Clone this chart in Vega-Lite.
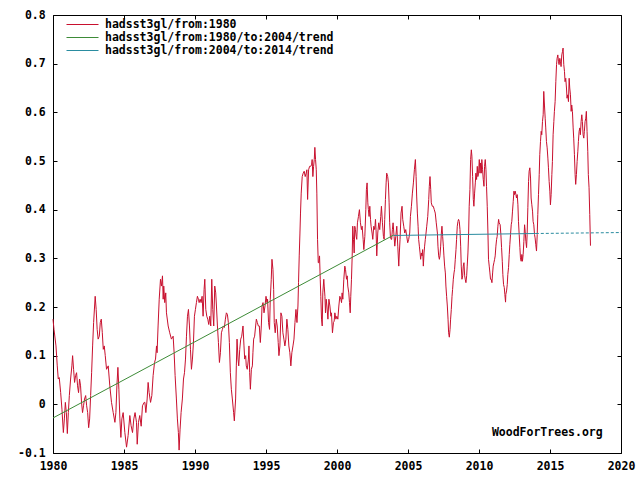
{
  "$schema": "https://vega.github.io/schema/vega-lite/v6.json",
  "width": 568,
  "height": 438,
  "autosize": {"type": "none"},
  "padding": {"left": 53, "top": 15, "right": 19, "bottom": 27},
  "background": "white",
  "config": {
    "view": {"stroke": "#000000", "strokeWidth": 1},
    "axis": {"grid": false, "domain": false, "tickColor": "#000000", "tickSize": -4, "tickWidth": 1, "labelFont": "DejaVu Sans Mono", "labelFontSize": 11.5, "labelFontWeight": "bold", "labelColor": "#000000", "title": null},
    "legend": {"orient": "none", "legendX": 13, "legendY": 3, "padding": 0, "symbolType": "stroke", "symbolSize": 1024, "symbolStrokeWidth": 1, "clipHeight": 13, "rowPadding": 0, "labelOffset": 6, "labelFont": "DejaVu Sans Mono", "labelFontSize": 11.5, "labelFontWeight": "bold", "labelColor": "#000000", "labelLimit": 400, "title": null}
  },
  "datasets": {
    "sst": [
      {"t":1980.00,"v":0.175},{"t":1980.07,"v":0.154},{"t":1980.21,"v":0.120},{"t":1980.30,"v":0.079},{"t":1980.37,"v":0.052},{"t":1980.44,"v":0.055},{"t":1980.54,"v":0.024},{"t":1980.63,"v":-0.010},{"t":1980.73,"v":-0.058},{"t":1980.80,"v":-0.030},{"t":1980.87,"v":0.004},{"t":1980.94,"v":-0.017},{"t":1981.01,"v":-0.060},{"t":1981.08,"v":-0.017},{"t":1981.15,"v":0.018},{"t":1981.24,"v":0.052},{"t":1981.33,"v":0.079},{"t":1981.38,"v":0.100},{"t":1981.45,"v":0.072},{"t":1981.52,"v":0.045},{"t":1981.59,"v":0.059},{"t":1981.66,"v":0.065},{"t":1981.73,"v":0.038},{"t":1981.80,"v":0.024},{"t":1981.87,"v":0.052},{"t":1981.94,"v":0.038},{"t":1982.01,"v":0.004},{"t":1982.08,"v":-0.017},{"t":1982.15,"v":-0.003},{"t":1982.22,"v":0.011},{"t":1982.30,"v":0.018},{"t":1982.37,"v":-0.003},{"t":1982.44,"v":-0.017},{"t":1982.51,"v":-0.048},{"t":1982.58,"v":-0.030},{"t":1982.65,"v":0.018},{"t":1982.72,"v":0.065},{"t":1982.79,"v":0.120},{"t":1982.86,"v":0.168},{"t":1982.93,"v":0.202},{"t":1982.97,"v":0.222},{"t":1983.04,"v":0.195},{"t":1983.11,"v":0.154},{"t":1983.18,"v":0.134},{"t":1983.26,"v":0.140},{"t":1983.33,"v":0.168},{"t":1983.40,"v":0.175},{"t":1983.47,"v":0.148},{"t":1983.54,"v":0.113},{"t":1983.61,"v":0.120},{"t":1983.68,"v":0.100},{"t":1983.77,"v":0.072},{"t":1983.89,"v":0.079},{"t":1984.00,"v":0.038},{"t":1984.12,"v":0.004},{"t":1984.24,"v":-0.017},{"t":1984.36,"v":-0.037},{"t":1984.43,"v":-0.017},{"t":1984.50,"v":0.038},{"t":1984.57,"v":0.076},{"t":1984.64,"v":0.031},{"t":1984.71,"v":-0.030},{"t":1984.78,"v":-0.068},{"t":1984.85,"v":-0.030},{"t":1984.94,"v":-0.017},{"t":1985.06,"v":-0.058},{"t":1985.18,"v":-0.088},{"t":1985.29,"v":-0.064},{"t":1985.41,"v":-0.023},{"t":1985.50,"v":-0.044},{"t":1985.60,"v":-0.058},{"t":1985.69,"v":-0.030},{"t":1985.78,"v":-0.017},{"t":1985.88,"v":-0.037},{"t":1985.93,"v":-0.082},{"t":1986.02,"v":-0.037},{"t":1986.11,"v":-0.023},{"t":1986.21,"v":-0.045},{"t":1986.30,"v":-0.003},{"t":1986.42,"v":0.004},
      {"t":1986.47,"v":0.004},{"t":1986.54,"v":-0.017},{"t":1986.63,"v":0.011},{"t":1986.70,"v":0.045},{"t":1986.77,"v":0.024},{"t":1986.87,"v":0.004},{"t":1986.96,"v":0.018},{"t":1987.05,"v":0.059},{"t":1987.15,"v":0.086},{"t":1987.22,"v":0.093},{"t":1987.29,"v":0.120},{"t":1987.33,"v":0.106},{"t":1987.40,"v":0.161},{"t":1987.48,"v":0.216},{"t":1987.57,"v":0.257},{"t":1987.64,"v":0.243},{"t":1987.71,"v":0.264},{"t":1987.76,"v":0.216},{"t":1987.80,"v":0.243},{"t":1987.87,"v":0.209},{"t":1987.94,"v":0.229},{"t":1987.99,"v":0.188},{"t":1988.11,"v":0.161},{"t":1988.22,"v":0.147},{"t":1988.34,"v":0.134},{"t":1988.46,"v":0.140},{"t":1988.53,"v":0.106},{"t":1988.60,"v":0.059},{"t":1988.69,"v":0.011},{"t":1988.76,"v":-0.030},{"t":1988.83,"v":-0.058},{"t":1988.88,"v":-0.094},{"t":1988.95,"v":-0.051},{"t":1989.02,"v":-0.017},{"t":1989.11,"v":0.011},{"t":1989.19,"v":0.052},{"t":1989.26,"v":0.065},{"t":1989.33,"v":0.093},{"t":1989.40,"v":0.140},{"t":1989.47,"v":0.181},{"t":1989.54,"v":0.195},{"t":1989.61,"v":0.161},{"t":1989.68,"v":0.113},{"t":1989.75,"v":0.072},{"t":1989.82,"v":0.093},{"t":1989.89,"v":0.127},{"t":1989.96,"v":0.181},{"t":1990.03,"v":0.195},{"t":1990.10,"v":0.209},{"t":1990.17,"v":0.222},{"t":1990.24,"v":0.216},{"t":1990.29,"v":0.209},{"t":1990.36,"v":0.216},{"t":1990.43,"v":0.209},{"t":1990.50,"v":0.222},{"t":1990.57,"v":0.181},{"t":1990.64,"v":0.236},{"t":1990.69,"v":0.257},{"t":1990.76,"v":0.195},{"t":1990.83,"v":0.181},{"t":1990.90,"v":0.175},{"t":1990.97,"v":0.164},{"t":1991.04,"v":0.181},{"t":1991.11,"v":0.161},{"t":1991.18,"v":0.257},{"t":1991.25,"v":0.195},{"t":1991.32,"v":0.161},{"t":1991.39,"v":0.243},{"t":1991.46,"v":0.229},{"t":1991.51,"v":0.202},{"t":1991.58,"v":0.161},{"t":1991.65,"v":0.127},{"t":1991.72,"v":0.086},{"t":1991.79,"v":0.106},{"t":1991.86,"v":0.147},{"t":1991.93,"v":0.154},{"t":1992.00,"v":0.161},{"t":1992.07,"v":0.158},{"t":1992.14,"v":0.175},{"t":1992.21,"v":0.188},{"t":1992.28,"v":0.185},{"t":1992.35,"v":0.168},{"t":1992.42,"v":0.127},{"t":1992.49,"v":0.065},{"t":1992.56,"v":0.031},{"t":1992.63,"v":0.011},{"t":1992.72,"v":-0.017},
      {"t":1992.77,"v":-0.034},{"t":1992.86,"v":0.011},{"t":1992.91,"v":0.079},{"t":1992.96,"v":0.134},{"t":1993.03,"v":0.093},{"t":1993.08,"v":0.079},{"t":1993.15,"v":0.113},{"t":1993.22,"v":0.134},{"t":1993.29,"v":0.140},{"t":1993.38,"v":0.161},{"t":1993.45,"v":0.120},{"t":1993.50,"v":0.093},{"t":1993.57,"v":0.100},{"t":1993.61,"v":0.079},{"t":1993.68,"v":0.072},{"t":1993.76,"v":0.093},{"t":1993.80,"v":0.120},{"t":1993.85,"v":0.065},{"t":1993.90,"v":0.031},{"t":1993.97,"v":0.072},{"t":1994.04,"v":0.079},{"t":1994.08,"v":0.106},{"t":1994.13,"v":0.134},{"t":1994.20,"v":0.140},{"t":1994.27,"v":0.161},{"t":1994.32,"v":0.175},{"t":1994.39,"v":0.168},{"t":1994.46,"v":0.161},{"t":1994.53,"v":0.161},{"t":1994.60,"v":0.127},{"t":1994.67,"v":0.161},{"t":1994.72,"v":0.202},{"t":1994.79,"v":0.209},{"t":1994.86,"v":0.188},{"t":1994.93,"v":0.202},{"t":1995.00,"v":0.222},{"t":1995.07,"v":0.209},{"t":1995.11,"v":0.216},{"t":1995.18,"v":0.168},{"t":1995.25,"v":0.154},{"t":1995.30,"v":0.216},{"t":1995.37,"v":0.257},{"t":1995.42,"v":0.298},{"t":1995.49,"v":0.277},{"t":1995.54,"v":0.236},{"t":1995.58,"v":0.168},{"t":1995.65,"v":0.147},{"t":1995.72,"v":0.175},{"t":1995.79,"v":0.161},{"t":1995.86,"v":0.127},{"t":1995.91,"v":0.100},{"t":1995.98,"v":0.120},{"t":1996.05,"v":0.188},{"t":1996.12,"v":0.181},{"t":1996.19,"v":0.147},{"t":1996.26,"v":0.134},{"t":1996.33,"v":0.120},{"t":1996.40,"v":0.134},{"t":1996.47,"v":0.175},{"t":1996.54,"v":0.154},{"t":1996.61,"v":0.120},{"t":1996.68,"v":0.106},{"t":1996.75,"v":0.079},{"t":1996.82,"v":0.106},{"t":1996.90,"v":0.120},{"t":1996.97,"v":0.134},{"t":1997.04,"v":0.168},{"t":1997.11,"v":0.195},{"t":1997.18,"v":0.168},{"t":1997.25,"v":0.202},{"t":1997.29,"v":0.250},{"t":1997.34,"v":0.305},{"t":1997.39,"v":0.352},{"t":1997.43,"v":0.393},{"t":1997.48,"v":0.434},{"t":1997.55,"v":0.468},{"t":1997.62,"v":0.475},{"t":1997.69,"v":0.479},{"t":1997.76,"v":0.468},{"t":1997.83,"v":0.475},{"t":1997.88,"v":0.482},{"t":1997.93,"v":0.421},{"t":1998.00,"v":0.482},{"t":1998.07,"v":0.489},{"t":1998.14,"v":0.489},{"t":1998.21,"v":0.492},{"t":1998.25,"v":0.503},{"t":1998.30,"v":0.468},{"t":1998.35,"v":0.489},{"t":1998.40,"v":0.503},{"t":1998.44,"v":0.528},{"t":1998.49,"v":0.503},{"t":1998.54,"v":0.482},{"t":1998.58,"v":0.434},{"t":1998.63,"v":0.339},{"t":1998.68,"v":0.291},{"t":1998.72,"v":0.291},{"t":1998.77,"v":0.305},{"t":1998.82,"v":0.257},{"t":1998.86,"v":0.222},{"t":1998.91,"v":0.175},{"t":1998.96,"v":0.161},{"t":1999.00,"v":0.229},{"t":1999.07,"v":0.257},
      {"t":1999.10,"v":0.243},{"t":1999.15,"v":0.222},{"t":1999.19,"v":0.188},{"t":1999.24,"v":0.216},{"t":1999.29,"v":0.202},{"t":1999.36,"v":0.175},{"t":1999.43,"v":0.216},{"t":1999.50,"v":0.202},{"t":1999.57,"v":0.181},{"t":1999.61,"v":0.188},{"t":1999.68,"v":0.147},{"t":1999.75,"v":0.168},{"t":1999.80,"v":0.171},{"t":1999.85,"v":0.188},{"t":1999.92,"v":0.175},{"t":1999.99,"v":0.181},{"t":2000.06,"v":0.175},{"t":2000.13,"v":0.202},{"t":2000.20,"v":0.222},{"t":2000.27,"v":0.216},{"t":2000.32,"v":0.209},{"t":2000.36,"v":0.229},{"t":2000.41,"v":0.216},{"t":2000.48,"v":0.257},{"t":2000.55,"v":0.284},{"t":2000.60,"v":0.277},{"t":2000.67,"v":0.257},{"t":2000.72,"v":0.264},{"t":2000.76,"v":0.243},{"t":2000.83,"v":0.229},{"t":2000.88,"v":0.209},{"t":2000.93,"v":0.188},{"t":2000.97,"v":0.222},{"t":2001.02,"v":0.257},{"t":2001.07,"v":0.305},{"t":2001.11,"v":0.366},{"t":2001.16,"v":0.339},{"t":2001.21,"v":0.311},{"t":2001.25,"v":0.366},{"t":2001.30,"v":0.359},{"t":2001.35,"v":0.345},{"t":2001.39,"v":0.339},{"t":2001.44,"v":0.373},{"t":2001.51,"v":0.386},{"t":2001.58,"v":0.400},{"t":2001.65,"v":0.373},{"t":2001.72,"v":0.359},{"t":2001.77,"v":0.366},{"t":2001.84,"v":0.339},{"t":2001.89,"v":0.318},{"t":2001.96,"v":0.345},{"t":2002.03,"v":0.400},{"t":2002.07,"v":0.441},{"t":2002.12,"v":0.455},{"t":2002.17,"v":0.414},{"t":2002.21,"v":0.400},{"t":2002.26,"v":0.386},{"t":2002.31,"v":0.407},{"t":2002.36,"v":0.380},{"t":2002.40,"v":0.366},{"t":2002.47,"v":0.352},{"t":2002.52,"v":0.339},{"t":2002.59,"v":0.366},{"t":2002.66,"v":0.359},{"t":2002.71,"v":0.380},{"t":2002.75,"v":0.359},{"t":2002.80,"v":0.305},{"t":2002.87,"v":0.352},{"t":2002.94,"v":0.373},{"t":2003.01,"v":0.359},{"t":2003.08,"v":0.386},{"t":2003.13,"v":0.407},{"t":2003.20,"v":0.373},{"t":2003.27,"v":0.345},{"t":2003.32,"v":0.339},{"t":2003.36,"v":0.380},{"t":2003.41,"v":0.421},{"t":2003.46,"v":0.455},{"t":2003.50,"v":0.475},{"t":2003.57,"v":0.468},{"t":2003.62,"v":0.455},{"t":2003.67,"v":0.414},{"t":2003.71,"v":0.373},{"t":2003.76,"v":0.345},{"t":2003.81,"v":0.339},{"t":2003.85,"v":0.339},{"t":2003.90,"v":0.359},{"t":2003.95,"v":0.373},{"t":2004.02,"v":0.345},{"t":2004.07,"v":0.325},{"t":2004.14,"v":0.345},{"t":2004.21,"v":0.366},{"t":2004.28,"v":0.325},{"t":2004.35,"v":0.284},{"t":2004.39,"v":0.311},{"t":2004.44,"v":0.339},{"t":2004.51,"v":0.393},{"t":2004.58,"v":0.407},{"t":2004.63,"v":0.380},{"t":2004.70,"v":0.366},{"t":2004.77,"v":0.352},{"t":2004.84,"v":0.359},{"t":2004.91,"v":0.345},{"t":2004.98,"v":0.332},{"t":2005.05,"v":0.339},{"t":2005.12,"v":0.352},
      {"t":2005.17,"v":0.386},{"t":2005.24,"v":0.407},{"t":2005.31,"v":0.434},{"t":2005.38,"v":0.455},{"t":2005.45,"v":0.482},{"t":2005.52,"v":0.503},{"t":2005.57,"v":0.468},{"t":2005.61,"v":0.428},{"t":2005.66,"v":0.393},{"t":2005.71,"v":0.366},{"t":2005.75,"v":0.339},{"t":2005.80,"v":0.325},{"t":2005.85,"v":0.311},{"t":2005.89,"v":0.298},{"t":2005.94,"v":0.311},{"t":2005.99,"v":0.305},{"t":2006.03,"v":0.318},{"t":2006.08,"v":0.284},{"t":2006.13,"v":0.311},{"t":2006.17,"v":0.325},{"t":2006.22,"v":0.339},{"t":2006.27,"v":0.352},{"t":2006.32,"v":0.366},{"t":2006.39,"v":0.386},{"t":2006.46,"v":0.421},{"t":2006.50,"v":0.448},{"t":2006.55,"v":0.468},{"t":2006.60,"v":0.441},{"t":2006.64,"v":0.414},{"t":2006.71,"v":0.407},{"t":2006.78,"v":0.407},{"t":2006.85,"v":0.400},{"t":2006.92,"v":0.393},{"t":2006.99,"v":0.373},{"t":2007.07,"v":0.352},{"t":2007.11,"v":0.325},{"t":2007.16,"v":0.305},{"t":2007.21,"v":0.298},{"t":2007.25,"v":0.305},{"t":2007.30,"v":0.325},{"t":2007.35,"v":0.352},{"t":2007.39,"v":0.366},{"t":2007.44,"v":0.345},{"t":2007.49,"v":0.325},{"t":2007.53,"v":0.305},{"t":2007.58,"v":0.284},{"t":2007.63,"v":0.270},{"t":2007.67,"v":0.243},{"t":2007.72,"v":0.222},{"t":2007.77,"v":0.202},{"t":2007.82,"v":0.175},{"t":2007.86,"v":0.147},{"t":2007.91,"v":0.138},{"t":2007.96,"v":0.154},{"t":2008.00,"v":0.175},{"t":2008.05,"v":0.195},{"t":2008.10,"v":0.222},{"t":2008.14,"v":0.236},{"t":2008.19,"v":0.257},{"t":2008.24,"v":0.270},{"t":2008.28,"v":0.277},{"t":2008.33,"v":0.298},{"t":2008.38,"v":0.318},{"t":2008.42,"v":0.339},{"t":2008.47,"v":0.366},{"t":2008.52,"v":0.376},{"t":2008.56,"v":0.380},{"t":2008.61,"v":0.376},{"t":2008.66,"v":0.359},{"t":2008.71,"v":0.325},{"t":2008.75,"v":0.284},{"t":2008.80,"v":0.257},{"t":2008.85,"v":0.264},{"t":2008.89,"v":0.284},{"t":2008.94,"v":0.291},{"t":2008.99,"v":0.264},{"t":2009.03,"v":0.257},{"t":2009.08,"v":0.250},{"t":2009.13,"v":0.264},{"t":2009.17,"v":0.284},{"t":2009.22,"v":0.311},{"t":2009.27,"v":0.352},{"t":2009.31,"v":0.407},{"t":2009.36,"v":0.441},{"t":2009.41,"v":0.503},{"t":2009.46,"v":0.523},{"t":2009.50,"v":0.510},{"t":2009.55,"v":0.468},{"t":2009.60,"v":0.421},{"t":2009.64,"v":0.407},{"t":2009.69,"v":0.434},{"t":2009.74,"v":0.455},{"t":2009.78,"v":0.475},{"t":2009.83,"v":0.462},{"t":2009.88,"v":0.489},{"t":2009.92,"v":0.468},{"t":2009.97,"v":0.475},{"t":2010.02,"v":0.503},{"t":2010.07,"v":0.475},{"t":2010.11,"v":0.496},{"t":2010.16,"v":0.475},{"t":2010.20,"v":0.503},{"t":2010.25,"v":0.482},{"t":2010.30,"v":0.462},{"t":2010.35,"v":0.448},{"t":2010.39,"v":0.489},{"t":2010.44,"v":0.503},{"t":2010.49,"v":0.482},{"t":2010.53,"v":0.448},{"t":2010.58,"v":0.407},{"t":2010.63,"v":0.352},{"t":2010.67,"v":0.298},{"t":2010.72,"v":0.284},{"t":2010.77,"v":0.270},{"t":2010.81,"v":0.257},{"t":2010.86,"v":0.257},{"t":2010.91,"v":0.250},{"t":2010.96,"v":0.270},{"t":2011.00,"v":0.284},{"t":2011.05,"v":0.291},{"t":2011.10,"v":0.298},{"t":2011.14,"v":0.305},{"t":2011.19,"v":0.325},{"t":2011.24,"v":0.339},{"t":2011.28,"v":0.345},{"t":2011.33,"v":0.366},{"t":2011.38,"v":0.380},{"t":2011.42,"v":0.373},
      {"t":2011.49,"v":0.369},{"t":2011.54,"v":0.349},{"t":2011.59,"v":0.322},{"t":2011.64,"v":0.294},{"t":2011.68,"v":0.267},{"t":2011.73,"v":0.246},{"t":2011.78,"v":0.240},{"t":2011.82,"v":0.226},{"t":2011.87,"v":0.210},{"t":2011.89,"v":0.226},{"t":2011.94,"v":0.233},{"t":2011.99,"v":0.246},{"t":2012.03,"v":0.267},{"t":2012.08,"v":0.281},{"t":2012.13,"v":0.308},{"t":2012.17,"v":0.328},{"t":2012.22,"v":0.349},{"t":2012.27,"v":0.369},{"t":2012.31,"v":0.376},{"t":2012.36,"v":0.397},{"t":2012.41,"v":0.417},{"t":2012.46,"v":0.438},{"t":2012.50,"v":0.431},{"t":2012.55,"v":0.438},{"t":2012.60,"v":0.431},{"t":2012.64,"v":0.424},{"t":2012.69,"v":0.431},{"t":2012.74,"v":0.410},{"t":2012.78,"v":0.376},{"t":2012.83,"v":0.349},{"t":2012.88,"v":0.322},{"t":2012.92,"v":0.301},{"t":2012.97,"v":0.294},{"t":2013.02,"v":0.308},{"t":2013.06,"v":0.294},{"t":2013.11,"v":0.308},{"t":2013.16,"v":0.335},{"t":2013.21,"v":0.369},{"t":2013.25,"v":0.356},{"t":2013.30,"v":0.335},{"t":2013.35,"v":0.322},{"t":2013.39,"v":0.349},{"t":2013.44,"v":0.404},{"t":2013.49,"v":0.458},{"t":2013.53,"v":0.479},{"t":2013.58,"v":0.486},{"t":2013.63,"v":0.465},{"t":2013.67,"v":0.424},{"t":2013.72,"v":0.410},{"t":2013.77,"v":0.397},{"t":2013.81,"v":0.376},{"t":2013.86,"v":0.369},{"t":2013.91,"v":0.349},{"t":2013.95,"v":0.342},{"t":2014.00,"v":0.328},{"t":2014.05,"v":0.315},{"t":2014.10,"v":0.349},{"t":2014.14,"v":0.390},{"t":2014.19,"v":0.431},{"t":2014.24,"v":0.472},{"t":2014.28,"v":0.513},{"t":2014.33,"v":0.540},{"t":2014.38,"v":0.561},{"t":2014.42,"v":0.554},{"t":2014.47,"v":0.581},{"t":2014.52,"v":0.595},{"t":2014.56,"v":0.643},{"t":2014.61,"v":0.615},{"t":2014.66,"v":0.588},{"t":2014.70,"v":0.568},{"t":2014.75,"v":0.540},{"t":2014.80,"v":0.527},{"t":2014.85,"v":0.506},{"t":2014.89,"v":0.486},{"t":2014.94,"v":0.458},{"t":2014.99,"v":0.438},{"t":2015.03,"v":0.410},{"t":2015.08,"v":0.431},{"t":2015.13,"v":0.472},{"t":2015.17,"v":0.499},{"t":2015.22,"v":0.554},{"t":2015.27,"v":0.581},{"t":2015.31,"v":0.602},{"t":2015.36,"v":0.622},{"t":2015.41,"v":0.663},{"t":2015.46,"v":0.698},{"t":2015.50,"v":0.711},{"t":2015.55,"v":0.718},{"t":2015.60,"v":0.704},{"t":2015.64,"v":0.698},{"t":2015.69,"v":0.711},{"t":2015.74,"v":0.704},{"t":2015.78,"v":0.694},{"t":2015.83,"v":0.718},{"t":2015.88,"v":0.725},{"t":2015.92,"v":0.732},{"t":2015.97,"v":0.698},{"t":2016.02,"v":0.684},{"t":2016.06,"v":0.663},{"t":2016.11,"v":0.670},{"t":2016.16,"v":0.650},{"t":2016.20,"v":0.629},{"t":2016.25,"v":0.636},{"t":2016.30,"v":0.622},{"t":2016.35,"v":0.670},{"t":2016.39,"v":0.650},{"t":2016.44,"v":0.636},{"t":2016.49,"v":0.602},{"t":2016.53,"v":0.615},{"t":2016.58,"v":0.602},{"t":2016.63,"v":0.568},{"t":2016.67,"v":0.547},{"t":2016.72,"v":0.513},{"t":2016.77,"v":0.472},{"t":2016.81,"v":0.452},{"t":2016.86,"v":0.472},{"t":2016.91,"v":0.499},{"t":2016.96,"v":0.520},{"t":2017.00,"v":0.540},{"t":2017.05,"v":0.561},{"t":2017.10,"v":0.568},{"t":2017.14,"v":0.554},{"t":2017.19,"v":0.581},{"t":2017.24,"v":0.595},{"t":2017.28,"v":0.581},{"t":2017.33,"v":0.554},{"t":2017.38,"v":0.547},{"t":2017.42,"v":0.561},{"t":2017.47,"v":0.581},{"t":2017.52,"v":0.588},{"t":2017.56,"v":0.602},{"t":2017.61,"v":0.561},{"t":2017.66,"v":0.520},{"t":2017.70,"v":0.472},{"t":2017.75,"v":0.445},{"t":2017.80,"v":0.390},{"t":2017.85,"v":0.326}
    ],
    "trend1980": [{"t":1980.0,"v":-0.028},{"t":2004.0,"v":0.348}],
    "trend2004": [{"t":2004.0,"v":0.347},{"t":2014.0,"v":0.351}],
    "trendRest": [{"t":2014.0,"v":0.351},{"t":2020.0,"v":0.353}]
  },
  "resolve": {"axis": {"x": "independent", "y": "independent"}},
  "layer": [
    {
      "data": {"name": "sst"},
      "mark": {"type": "line", "strokeWidth": 1, "interpolate": "linear"},
      "encoding": {
        "x": {"field": "t", "type": "quantitative", "scale": {"domain": [1980, 2020], "nice": false, "zero": false},
              "axis": {"orient": "bottom", "values": [1980,1985,1990,1995,2000,2005,2010,2015,2020], "format": "d", "labelPadding": 11, "labelFlush": false}},
        "y": {"field": "v", "type": "quantitative", "scale": {"domain": [-0.1, 0.8], "nice": false, "zero": false},
              "axis": {"orient": "left", "values": [-0.1,0,0.1,0.2,0.3,0.4,0.5,0.6,0.7,0.8], "labelExpr": "datum.value < 0 ? '-' + format(-datum.value, '.1~f') : format(datum.value, '.1~f')", "labelPadding": 11.8, "labelFlush": false}},
        "color": {"datum": "hadsst3gl/from:1980", "type": "nominal",
                  "scale": {"domain": ["hadsst3gl/from:1980", "hadsst3gl/from:1980/to:2004/trend", "hadsst3gl/from:2004/to:2014/trend"], "range": ["#c8102e", "#3d8b37", "#2a8ca0"]}}
      }
    },
    {
      "data": {"name": "trend1980"},
      "mark": {"type": "line", "strokeWidth": 1},
      "encoding": {
        "x": {"field": "t", "type": "quantitative", "axis": null},
        "y": {"field": "v", "type": "quantitative", "axis": null},
        "color": {"datum": "hadsst3gl/from:1980/to:2004/trend", "type": "nominal"}
      }
    },
    {
      "data": {"name": "trend2004"},
      "mark": {"type": "line", "strokeWidth": 1},
      "encoding": {
        "x": {"field": "t", "type": "quantitative", "axis": null},
        "y": {"field": "v", "type": "quantitative", "axis": null},
        "color": {"datum": "hadsst3gl/from:2004/to:2014/trend", "type": "nominal"}
      }
    },
    {
      "data": {"name": "trendRest"},
      "mark": {"type": "line", "strokeWidth": 1, "strokeDash": [3, 2], "color": "#2a8ca0"},
      "encoding": {
        "x": {"field": "t", "type": "quantitative",
              "axis": {"orient": "top", "labels": false, "values": [1980,1985,1990,1995,2000,2005,2010,2015,2020]}},
        "y": {"field": "v", "type": "quantitative",
              "axis": {"orient": "right", "labels": false, "values": [-0.1,0,0.1,0.2,0.3,0.4,0.5,0.6,0.7,0.8]}}
      }
    },
    {
      "data": {"values": [{}]},
      "mark": {"type": "text", "align": "right", "baseline": "middle", "font": "DejaVu Sans Mono", "fontSize": 11.5, "fontWeight": "bold", "color": "#000000"},
      "encoding": {
        "x": {"datum": 2018.71, "type": "quantitative", "axis": null},
        "y": {"datum": -0.058, "type": "quantitative", "axis": null},
        "text": {"value": "WoodForTrees.org"}
      }
    }
  ]
}
